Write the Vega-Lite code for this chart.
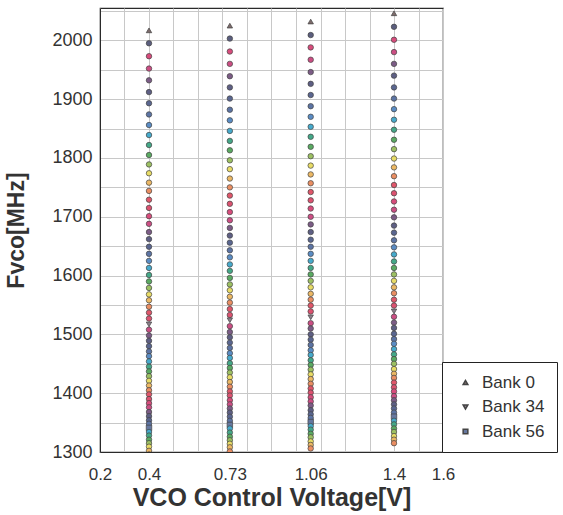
{
  "$schema": "https://vega.github.io/schema/vega-lite/v6.json",
  "width": 343,
  "height": 444,
  "autosize": {"type": "none"},
  "padding": {"left": 100, "top": 8, "right": 120, "bottom": 63},
  "background": "white",
  "config": {
    "view": {"stroke": "#2a2a2a", "strokeWidth": 1.2},
    "font": "Liberation Sans",
    "axis": {"labelFont": "Liberation Sans", "titleFont": "Liberation Sans", "gridColor": "#c8c8c8", "gridWidth": 1, "domainColor": "#2a2a2a", "labelColor": "#333333", "titleColor": "#333333", "ticks": false, "labelFlush": false, "labelOverlap": false}
  },
  "data": {"values": [
    {"v":0.4,"bank":0,"f":2017},{"v":0.4,"bank":1,"f":1995},{"v":0.4,"bank":2,"f":1973},{"v":0.4,"bank":3,"f":1952},{"v":0.4,"bank":4,"f":1932},{"v":0.4,"bank":5,"f":1912},{"v":0.4,"bank":6,"f":1893},{"v":0.4,"bank":7,"f":1874},
    {"v":0.4,"bank":8,"f":1856},{"v":0.4,"bank":9,"f":1839},{"v":0.4,"bank":10,"f":1822},{"v":0.4,"bank":11,"f":1805},{"v":0.4,"bank":12,"f":1789},{"v":0.4,"bank":13,"f":1774},{"v":0.4,"bank":14,"f":1758},{"v":0.4,"bank":15,"f":1744},
    {"v":0.4,"bank":16,"f":1729},{"v":0.4,"bank":17,"f":1715},{"v":0.4,"bank":18,"f":1701},{"v":0.4,"bank":19,"f":1688},{"v":0.4,"bank":20,"f":1674},{"v":0.4,"bank":21,"f":1662},{"v":0.4,"bank":22,"f":1649},{"v":0.4,"bank":23,"f":1637},
    {"v":0.4,"bank":24,"f":1625},{"v":0.4,"bank":25,"f":1613},{"v":0.4,"bank":26,"f":1601},{"v":0.4,"bank":27,"f":1590},{"v":0.4,"bank":28,"f":1579},{"v":0.4,"bank":29,"f":1568},{"v":0.4,"bank":30,"f":1558},{"v":0.4,"bank":31,"f":1547},
    {"v":0.4,"bank":32,"f":1537},{"v":0.4,"bank":33,"f":1527},{"v":0.4,"bank":34,"f":1517},{"v":0.4,"bank":35,"f":1508},{"v":0.4,"bank":36,"f":1498},{"v":0.4,"bank":37,"f":1489},{"v":0.4,"bank":38,"f":1480},{"v":0.4,"bank":39,"f":1471},
    {"v":0.4,"bank":40,"f":1463},{"v":0.4,"bank":41,"f":1454},{"v":0.4,"bank":42,"f":1445},{"v":0.4,"bank":43,"f":1437},{"v":0.4,"bank":44,"f":1429},{"v":0.4,"bank":45,"f":1421},{"v":0.4,"bank":46,"f":1413},{"v":0.4,"bank":47,"f":1405},
    {"v":0.4,"bank":48,"f":1398},{"v":0.4,"bank":49,"f":1390},{"v":0.4,"bank":50,"f":1383},{"v":0.4,"bank":51,"f":1376},{"v":0.4,"bank":52,"f":1368},{"v":0.4,"bank":53,"f":1361},{"v":0.4,"bank":54,"f":1354},{"v":0.4,"bank":55,"f":1348},
    {"v":0.4,"bank":56,"f":1341},{"v":0.4,"bank":57,"f":1334},{"v":0.4,"bank":58,"f":1328},{"v":0.4,"bank":59,"f":1321},{"v":0.4,"bank":60,"f":1315},{"v":0.4,"bank":61,"f":1309},{"v":0.4,"bank":62,"f":1302},{"v":0.4,"bank":63,"f":1296},

    {"v":0.73,"bank":0,"f":2025},{"v":0.73,"bank":1,"f":2003},{"v":0.73,"bank":2,"f":1981},{"v":0.73,"bank":3,"f":1960},{"v":0.73,"bank":4,"f":1939},{"v":0.73,"bank":5,"f":1920},{"v":0.73,"bank":6,"f":1901},{"v":0.73,"bank":7,"f":1882},
    {"v":0.73,"bank":8,"f":1864},{"v":0.73,"bank":9,"f":1846},{"v":0.73,"bank":10,"f":1829},{"v":0.73,"bank":11,"f":1813},{"v":0.73,"bank":12,"f":1796},{"v":0.73,"bank":13,"f":1781},{"v":0.73,"bank":14,"f":1765},{"v":0.73,"bank":15,"f":1750},
    {"v":0.73,"bank":16,"f":1736},{"v":0.73,"bank":17,"f":1722},{"v":0.73,"bank":18,"f":1708},{"v":0.73,"bank":19,"f":1694},{"v":0.73,"bank":20,"f":1681},{"v":0.73,"bank":21,"f":1668},{"v":0.73,"bank":22,"f":1656},{"v":0.73,"bank":23,"f":1643},
    {"v":0.73,"bank":24,"f":1631},{"v":0.73,"bank":25,"f":1619},{"v":0.73,"bank":26,"f":1608},{"v":0.73,"bank":27,"f":1596},{"v":0.73,"bank":28,"f":1585},{"v":0.73,"bank":29,"f":1575},{"v":0.73,"bank":30,"f":1564},{"v":0.73,"bank":31,"f":1554},
    {"v":0.73,"bank":32,"f":1543},{"v":0.73,"bank":33,"f":1533},{"v":0.73,"bank":34,"f":1524},{"v":0.73,"bank":35,"f":1514},{"v":0.73,"bank":36,"f":1504},{"v":0.73,"bank":37,"f":1495},{"v":0.73,"bank":38,"f":1486},{"v":0.73,"bank":39,"f":1477},
    {"v":0.73,"bank":40,"f":1468},{"v":0.73,"bank":41,"f":1460},{"v":0.73,"bank":42,"f":1451},{"v":0.73,"bank":43,"f":1443},{"v":0.73,"bank":44,"f":1435},{"v":0.73,"bank":45,"f":1427},{"v":0.73,"bank":46,"f":1419},{"v":0.73,"bank":47,"f":1411},
    {"v":0.73,"bank":48,"f":1403},{"v":0.73,"bank":49,"f":1396},{"v":0.73,"bank":50,"f":1388},{"v":0.73,"bank":51,"f":1381},{"v":0.73,"bank":52,"f":1374},{"v":0.73,"bank":53,"f":1367},{"v":0.73,"bank":54,"f":1360},{"v":0.73,"bank":55,"f":1353},
    {"v":0.73,"bank":56,"f":1346},{"v":0.73,"bank":57,"f":1340},{"v":0.73,"bank":58,"f":1333},{"v":0.73,"bank":59,"f":1326},{"v":0.73,"bank":60,"f":1320},{"v":0.73,"bank":61,"f":1314},{"v":0.73,"bank":62,"f":1308},{"v":0.73,"bank":63,"f":1301},

    {"v":1.06,"bank":0,"f":2032},{"v":1.06,"bank":1,"f":2009},{"v":1.06,"bank":2,"f":1988},{"v":1.06,"bank":3,"f":1967},{"v":1.06,"bank":4,"f":1946},{"v":1.06,"bank":5,"f":1926},{"v":1.06,"bank":6,"f":1907},{"v":1.06,"bank":7,"f":1888},
    {"v":1.06,"bank":8,"f":1870},{"v":1.06,"bank":9,"f":1853},{"v":1.06,"bank":10,"f":1836},{"v":1.06,"bank":11,"f":1819},{"v":1.06,"bank":12,"f":1803},{"v":1.06,"bank":13,"f":1787},{"v":1.06,"bank":14,"f":1772},{"v":1.06,"bank":15,"f":1757},
    {"v":1.06,"bank":16,"f":1742},{"v":1.06,"bank":17,"f":1728},{"v":1.06,"bank":18,"f":1714},{"v":1.06,"bank":19,"f":1700},{"v":1.06,"bank":20,"f":1687},{"v":1.06,"bank":21,"f":1674},{"v":1.06,"bank":22,"f":1661},{"v":1.06,"bank":23,"f":1649},
    {"v":1.06,"bank":24,"f":1637},{"v":1.06,"bank":25,"f":1625},{"v":1.06,"bank":26,"f":1613},{"v":1.06,"bank":27,"f":1602},{"v":1.06,"bank":28,"f":1591},{"v":1.06,"bank":29,"f":1580},{"v":1.06,"bank":30,"f":1569},{"v":1.06,"bank":31,"f":1559},
    {"v":1.06,"bank":32,"f":1549},{"v":1.06,"bank":33,"f":1539},{"v":1.06,"bank":34,"f":1529},{"v":1.06,"bank":35,"f":1519},{"v":1.06,"bank":36,"f":1510},{"v":1.06,"bank":37,"f":1500},{"v":1.06,"bank":38,"f":1491},{"v":1.06,"bank":39,"f":1482},
    {"v":1.06,"bank":40,"f":1473},{"v":1.06,"bank":41,"f":1465},{"v":1.06,"bank":42,"f":1456},{"v":1.06,"bank":43,"f":1448},{"v":1.06,"bank":44,"f":1440},{"v":1.06,"bank":45,"f":1432},{"v":1.06,"bank":46,"f":1424},{"v":1.06,"bank":47,"f":1416},
    {"v":1.06,"bank":48,"f":1408},{"v":1.06,"bank":49,"f":1401},{"v":1.06,"bank":50,"f":1393},{"v":1.06,"bank":51,"f":1386},{"v":1.06,"bank":52,"f":1379},{"v":1.06,"bank":53,"f":1371},{"v":1.06,"bank":54,"f":1364},{"v":1.06,"bank":55,"f":1358},
    {"v":1.06,"bank":56,"f":1351},{"v":1.06,"bank":57,"f":1344},{"v":1.06,"bank":58,"f":1338},{"v":1.06,"bank":59,"f":1331},{"v":1.06,"bank":60,"f":1325},{"v":1.06,"bank":61,"f":1318},{"v":1.06,"bank":62,"f":1312},{"v":1.06,"bank":63,"f":1306},

    {"v":1.4,"bank":0,"f":2046},{"v":1.4,"bank":1,"f":2023},{"v":1.4,"bank":2,"f":2001},{"v":1.4,"bank":3,"f":1980},{"v":1.4,"bank":4,"f":1960},{"v":1.4,"bank":5,"f":1940},{"v":1.4,"bank":6,"f":1920},{"v":1.4,"bank":7,"f":1901},
    {"v":1.4,"bank":8,"f":1883},{"v":1.4,"bank":9,"f":1865},{"v":1.4,"bank":10,"f":1848},{"v":1.4,"bank":11,"f":1831},{"v":1.4,"bank":12,"f":1815},{"v":1.4,"bank":13,"f":1799},{"v":1.4,"bank":14,"f":1784},{"v":1.4,"bank":15,"f":1769},
    {"v":1.4,"bank":16,"f":1754},{"v":1.4,"bank":17,"f":1740},{"v":1.4,"bank":18,"f":1726},{"v":1.4,"bank":19,"f":1712},{"v":1.4,"bank":20,"f":1699},{"v":1.4,"bank":21,"f":1685},{"v":1.4,"bank":22,"f":1673},{"v":1.4,"bank":23,"f":1660},
    {"v":1.4,"bank":24,"f":1648},{"v":1.4,"bank":25,"f":1636},{"v":1.4,"bank":26,"f":1624},{"v":1.4,"bank":27,"f":1613},{"v":1.4,"bank":28,"f":1602},{"v":1.4,"bank":29,"f":1591},{"v":1.4,"bank":30,"f":1580},{"v":1.4,"bank":31,"f":1570},
    {"v":1.4,"bank":32,"f":1559},{"v":1.4,"bank":33,"f":1549},{"v":1.4,"bank":34,"f":1539},{"v":1.4,"bank":35,"f":1530},{"v":1.4,"bank":36,"f":1520},{"v":1.4,"bank":37,"f":1511},{"v":1.4,"bank":38,"f":1501},{"v":1.4,"bank":39,"f":1492},
    {"v":1.4,"bank":40,"f":1484},{"v":1.4,"bank":41,"f":1475},{"v":1.4,"bank":42,"f":1466},{"v":1.4,"bank":43,"f":1458},{"v":1.4,"bank":44,"f":1450},{"v":1.4,"bank":45,"f":1441},{"v":1.4,"bank":46,"f":1433},{"v":1.4,"bank":47,"f":1426},
    {"v":1.4,"bank":48,"f":1418},{"v":1.4,"bank":49,"f":1410},{"v":1.4,"bank":50,"f":1403},{"v":1.4,"bank":51,"f":1395},{"v":1.4,"bank":52,"f":1388},{"v":1.4,"bank":53,"f":1381},{"v":1.4,"bank":54,"f":1374},{"v":1.4,"bank":55,"f":1367},
    {"v":1.4,"bank":56,"f":1360},{"v":1.4,"bank":57,"f":1353},{"v":1.4,"bank":58,"f":1347},{"v":1.4,"bank":59,"f":1340},{"v":1.4,"bank":60,"f":1334},{"v":1.4,"bank":61,"f":1327},{"v":1.4,"bank":62,"f":1321},{"v":1.4,"bank":63,"f":1315}
  ]},
  "mark": {"type": "point", "filled": true, "size": 30, "stroke": "#444444", "strokeWidth": 0.7, "opacity": 1, "clip": true},
  "encoding": {
    "x": {
      "field": "v", "type": "quantitative",
      "scale": {"domain": [0.2, 1.6], "nice": false, "zero": false},
      "axis": {
        "values": [0.2, 0.3, 0.4, 0.5, 0.6, 0.7, 0.8, 0.9, 1.0, 1.1, 1.2, 1.3, 1.4, 1.5, 1.6, 0.73, 1.06],
        "format": ".2~f",
        "labelExpr": "indexof([0.2, 0.4, 0.73, 1.06, 1.4, 1.6], datum.value) >= 0 ? datum.label : ''",
        "gridOpacity": {"condition": {"test": "datum.value == 0.73 || datum.value == 1.06", "value": 0}, "value": 1},
        "labelFontSize": 17,
        "labelPadding": 14,
        "title": "VCO Control Voltage[V]",
        "titleFontSize": 25,
        "titleFontWeight": "bold",
        "titlePadding": 3
      }
    },
    "y": {
      "field": "f", "type": "quantitative",
      "scale": {"domain": [1300, 2055], "nice": false, "zero": false},
      "axis": {
        "values": [1300, 1350, 1400, 1450, 1500, 1550, 1600, 1650, 1700, 1750, 1800, 1850, 1900, 1950, 2000, 2050],
        "format": "d",
        "labelExpr": "datum.value % 100 == 0 ? datum.label : ''",
        "labelFontSize": 18,
        "labelPadding": 8,
        "title": "Fvco[MHz]",
        "titleFontSize": 23,
        "titleFontWeight": "bold",
        "titlePadding": 23
      }
    },
    "color": {
      "field": "bank", "type": "nominal",
      "scale": {
        "domain": [0,1,2,3,4,5,6,7,8,9,10,11,12,13,14,15,16,17,18,19,20,21,22,23,24,25,26,27,28,29,30,31,32,33,34,35,36,37,38,39,40,41,42,43,44,45,46,47,48,49,50,51,52,53,54,55,56,57,58,59,60,61,62,63],
        "range": [
          "#7d6b6b", "#5b5e7e", "#d84c7c", "#cc4e84", "#7c5c86", "#5e5f84", "#5a6690", "#5c74a4", "#5a8cc4", "#46aacc", "#44a888", "#5aaa62", "#9cc062", "#e8dc66", "#ecb864", "#ea8e62",
          "#e0566a", "#dc5270", "#d84c7c", "#cc4e84", "#7c5c86", "#5e5f84", "#5a6690", "#5c74a4", "#5a8cc4", "#46aacc", "#44a888", "#5aaa62", "#9cc062", "#e8dc66", "#ecb864", "#ea8e62",
          "#e0566a", "#dc5270", "#8a7e8a", "#cc4e84", "#7c5c86", "#5e5f84", "#5a6690", "#5c74a4", "#5a8cc4", "#46aacc", "#44a888", "#5aaa62", "#9cc062", "#e8dc66", "#ecb864", "#ea8e62",
          "#e0566a", "#dc5270", "#d84c7c", "#cc4e84", "#7c5c86", "#5e5f84", "#5a6690", "#5c74a4", "#6678a0", "#46aacc", "#44a888", "#5aaa62", "#9cc062", "#e8dc66", "#ecb864", "#ea8e62"
        ]
      },
      "legend": {"values": [0, 34, 56], "orient": "none", "legendX": 342, "legendY": 354, "title": null, "labelExpr": "'Bank ' + datum.label + '\u00a0\u00a0\u00a0'", "labelFontSize": 17, "labelFont": "Liberation Sans", "labelColor": "#333333", "symbolSize": 22, "padding": 12, "rowPadding": 6.5, "strokeColor": "#222222", "fillColor": "white", "labelOffset": 8, "symbolOffset": 3}
    },
    "shape": {
      "field": "bank", "type": "nominal",
      "scale": {
        "domain": [0,1,2,3,4,5,6,7,8,9,10,11,12,13,14,15,16,17,18,19,20,21,22,23,24,25,26,27,28,29,30,31,32,33,34,35,36,37,38,39,40,41,42,43,44,45,46,47,48,49,50,51,52,53,54,55,56,57,58,59,60,61,62,63],
        "range": [
          "triangle-up", "circle", "circle", "circle", "circle", "circle", "circle", "circle", "circle", "circle", "circle", "circle", "circle", "circle", "circle", "circle",
          "circle", "circle", "circle", "circle", "circle", "circle", "circle", "circle", "circle", "circle", "circle", "circle", "circle", "circle", "circle", "circle",
          "circle", "circle", "triangle-down", "circle", "circle", "circle", "circle", "circle", "circle", "circle", "circle", "circle", "circle", "circle", "circle", "circle",
          "circle", "circle", "circle", "circle", "circle", "circle", "circle", "circle", "square", "circle", "circle", "circle", "circle", "circle", "circle", "circle"
        ]
      },
      "legend": {"values": [0, 34, 56], "orient": "none", "legendX": 342, "legendY": 354, "title": null, "labelExpr": "'Bank ' + datum.label + '\u00a0\u00a0\u00a0'", "labelFontSize": 17, "labelFont": "Liberation Sans", "labelColor": "#333333", "symbolSize": 22, "padding": 12, "rowPadding": 6.5, "strokeColor": "#222222", "fillColor": "white", "labelOffset": 8, "symbolOffset": 3}
    }
  }
}
